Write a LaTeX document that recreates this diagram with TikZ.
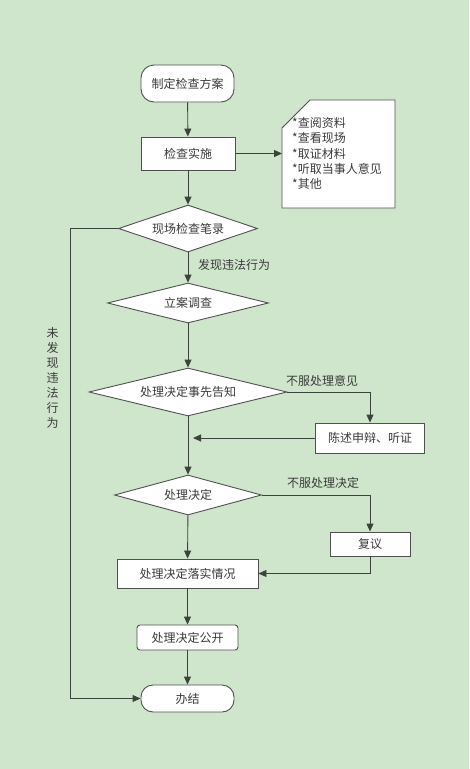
\documentclass[tikz,border=0pt]{standalone}
\usepackage{fontspec}
\setmainfont{Noto Sans CJK SC}
\usetikzlibrary{arrows.meta,shapes.geometric}
\definecolor{bg}{HTML}{CFE6CC}
\definecolor{ln}{HTML}{3A443A}
\definecolor{bd}{HTML}{505050}
\definecolor{tx}{HTML}{3A3A3A}
\begin{document}
\begin{tikzpicture}[x=1pt,y=-1pt,
  font=\fontsize{12}{14}\selectfont, text=tx,
  term/.style={draw=bd, fill=white, line width=0.9pt, inner sep=0, rounded corners=13pt},
  proc/.style={draw=bd, fill=white, line width=0.9pt, inner sep=0},
  dec/.style={diamond, draw=bd, fill=white, line width=0.9pt, inner sep=0},
  arr/.style={draw=ln, line width=0.9pt, -{Triangle[length=8pt,width=7pt]}},
  lbl/.style={text=tx, inner sep=0}]
\fill[bg] (0,0) rectangle (469,769);
\useasboundingbox (0,0) rectangle (469,769);

\node[term, minimum width=93pt, minimum height=37pt] (plan) at (187.5,83.5) {制定检查方案};
\node[proc, minimum width=94pt, minimum height=33pt] (impl) at (188,153.5) {检查实施};
\node[dec, aspect=2.96, minimum width=139pt, minimum height=47pt] (rec) at (188,228.5) {现场检查笔录};
\node[dec, aspect=4.0, minimum width=161pt, minimum height=40pt] (inv) at (188,303) {立案调查};
\node[dec, aspect=4.1, minimum width=198pt, minimum height=48pt] (notice) at (188,392) {处理决定事先告知};
\node[proc, minimum width=109pt, minimum height=30pt] (hear) at (370,438) {陈述申辩、听证};
\node[dec, aspect=3.7, minimum width=147pt, minimum height=40pt] (decide) at (188,495) {处理决定};
\node[proc, minimum width=80pt, minimum height=24pt] (rev) at (370,544) {复议};
\node[proc, minimum width=141pt, minimum height=29pt] (impl2) at (187.5,573.5) {处理决定落实情况};
\node[proc, rounded corners=3pt, minimum width=101pt, minimum height=25pt] (pub) at (187.5,637.5) {处理决定公开};
\node[term, rounded corners=12pt, minimum width=93pt, minimum height=27pt] (fin) at (187.5,698.5) {办结};

% note
\draw[draw=bd, fill=white, line width=0.9pt] (282,128) -- (310,100) -- (395,100) -- (395,208) -- (282,208) -- cycle;
\node[anchor=west, align=left, inner sep=0, font=\fontsize{12}{15.3}\selectfont] (notetext) at (292,153.5)
  {*查阅资料\\*查看现场\\*取证材料\\*听取当事人意见\\*其他};
\coordinate (noteL) at (282,153.5);

% connectors
\draw[arr] (plan) -- (impl);
\draw[arr] (impl) -- (noteL);
\draw[arr] (impl) -- (rec);
\draw[arr] (rec) -- (inv);
\node[lbl, anchor=west] (lfound) at (198,265) {发现违法行为};
\draw[arr] (inv) -- (notice);
\draw[arr] (notice.east) -| (hear.north);
\node[lbl] (lobj1) at (322,381) {不服处理意见};
\coordinate (j1) at (188,438);
\draw[arr, shorten >=5pt] (hear.west) -- (j1);
\draw[arr] (notice) -- (decide);
\draw[arr] (decide.east) -| (rev.north);
\node[lbl] (lobj2) at (323,483) {不服处理决定};
\draw[arr] (decide) -- (impl2);
\draw[arr] (rev.south) |- (impl2.east);
\draw[arr] (impl2) -- (pub);
\draw[arr] (pub) -- (fin);
\coordinate (lft) at (70,228.5);
\draw[arr] (rec.west) -- (lft) |- (fin.west);
\node[lbl, align=center, font=\fontsize{12}{15}\selectfont] (lnot) at (52.5,378) {未\\发\\现\\违\\法\\行\\为};
\end{tikzpicture}
\end{document}
